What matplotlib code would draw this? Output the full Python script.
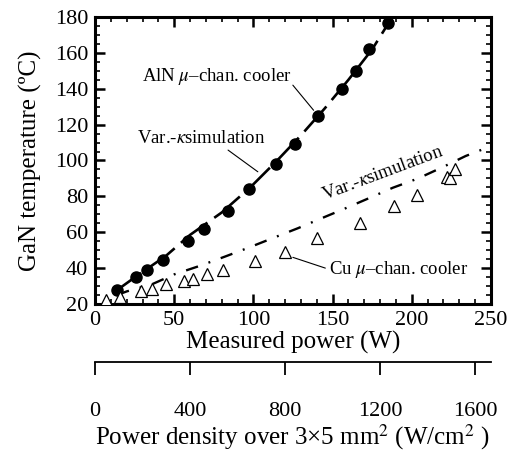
import matplotlib
matplotlib.use("Agg")
import matplotlib.pyplot as plt
from matplotlib.ticker import MultipleLocator

plt.rcParams['font.family'] = ['Liberation Serif', 'DejaVu Serif']
plt.rcParams['mathtext.fontset'] = 'stix'
plt.rcParams['lines.scale_dashes'] = False

# AlN micro-channel cooler (measured, filled circles)
aln_w = [14, 26, 33, 43, 59, 69, 84, 97, 114, 126, 141, 156, 165, 173, 185]
aln_t = [28, 35, 39, 44.5, 55, 62, 72, 84, 98, 109, 125, 140, 150, 162, 176.5]

# AlN variable-kappa simulation (dashed)
aln_sim_w = [12, 23, 45, 60, 80, 98, 115, 130, 145, 160, 175, 187]
aln_sim_t = [26.5, 33.5, 47, 58.5, 71, 85, 100, 114, 129, 145, 162, 179]

# Cu micro-channel cooler (measured, open triangles)
cu_w = [7, 16, 29, 36, 45, 56, 62, 71, 81, 101, 120, 140, 167, 189, 203, 222, 224, 227]
cu_t = [22, 24, 27, 28.5, 31, 33, 34, 36.5, 39, 44, 49, 57, 65, 74.5, 81, 91, 90, 95]

# Cu variable-kappa simulation (dash-dot)
cu_sim_w = [14, 20, 36, 50, 66, 82, 97, 113, 128, 142, 158, 173, 188, 204, 220, 234, 250]
cu_sim_t = [25, 27, 31, 36.5, 41.2, 46.4, 51.4, 57, 62.2, 67.4, 73.3, 79, 84.8, 90, 96.5, 102.5, 108]

x_ticks = [0, 50, 100, 150, 200, 250]
y_ticks = [20, 40, 60, 80, 100, 120, 140, 160, 180]
density_ticks = [0, 400, 800, 1200, 1600]
chip_area_cm2 = 0.15  # 3 x 5 mm^2

fig = plt.figure(figsize=(5.18, 4.51), dpi=100)
ax = fig.add_axes([0.1834, 0.326, 0.7645, 0.6363])

ax.plot(aln_sim_w, aln_sim_t, color='black', lw=1.9, linestyle=(0, (24, 6)))
ax.plot(cu_sim_w, cu_sim_t, color='black', lw=1.7, linestyle=(0, (9, 8, 1.4, 8)))
ax.plot(aln_w, aln_t, 'o', color='black', markersize=8, zorder=3)
ax.plot(cu_w, cu_t, '^', markerfacecolor='white', markeredgecolor='black',
        markersize=8, markeredgewidth=0.9, zorder=3)

ax.set_xlim(0, 250)
ax.set_ylim(20, 180)
ax.set_xticks(x_ticks)
ax.set_yticks(y_ticks)
ax.xaxis.set_minor_locator(MultipleLocator(10))
ax.yaxis.set_minor_locator(MultipleLocator(5))
ax.tick_params(which='both', direction='in', top=True, right=True, labelsize=16)
ax.tick_params(which='major', length=7, width=1.8, pad=5)
ax.tick_params(which='minor', length=3.5, width=1.2)
for s in ax.spines.values():
    s.set_linewidth(2.2)

ax.set_xlabel('Measured power (W)', fontsize=18, labelpad=1)
ax.set_ylabel('GaN temperature (ºC)', fontsize=18, labelpad=9)

# annotations
txt_kw = dict(fontsize=13.5, va='center', ha='left')
ax.text(29.6, 146.7, r'AlN $\mu$–chan. cooler', **txt_kw)
ax.text(26.4, 112.5, r'Var.-$\kappa$simulation', **txt_kw)
ax.text(148, 39, r'Cu $\mu$–chan. cooler', **txt_kw)
ax.text(182, 92.5, r'Var.-$\kappa$simulation', fontsize=13.5, ha='center', va='center',
        rotation=20.5, rotation_mode='anchor')
leaders = [((124.9, 142), (138, 128)), ((84, 105.8), (102.8, 93.7)), ((124.9, 46), (145.4, 40))]
for a, b in leaders:
    ax.annotate('', xy=b, xytext=a,
                arrowprops=dict(arrowstyle='-', lw=0.8, color='black', shrinkA=0, shrinkB=0))

# secondary axis: power density
sec = ax.secondary_xaxis(-0.202, functions=(lambda w: w / chip_area_cm2,
                                            lambda d: d * chip_area_cm2))
sec.set_xticks(density_ticks)
sec.spines['bottom'].set_linewidth(1.3)
sec.tick_params(direction='out', length=9, width=1.3, labelsize=16, pad=20)
sec.set_xlabel(r'Power density over 3×5 mm$^2$ (W/cm$^2$ )', fontsize=18, labelpad=1)

fig.savefig('out.png', dpi=100)
